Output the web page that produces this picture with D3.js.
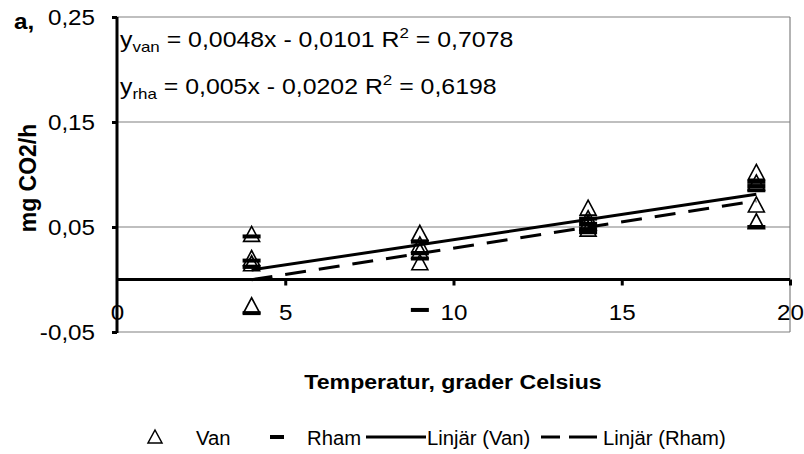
<!DOCTYPE html>
<html>
<head>
<meta charset="utf-8">
<script src="https://cdn.jsdelivr.net/npm/d3@7/dist/d3.min.js"></script>
<style>
  html, body { margin: 0; padding: 0; background: #fff; }
  svg { display: block; font-family: "Liberation Sans", Arial, sans-serif; }
</style>
</head>
<body>
<svg id="chart" width="804" height="454"></svg>
<script>
// Measurement temperatures (°C)
const temps = [4, 9, 14, 19];
// CO2 production per replicate at each temperature (mg CO2/h)
const vanValues = [
  [0.043, 0.020, 0.015, -0.025],
  [0.044, 0.033, 0.027, 0.016],
  [0.068, 0.058, 0.054, 0.048],
  [0.102, 0.092, 0.071, 0.055]
];
const rhamValues = [
  [0.041, 0.018, 0.012, -0.032],
  [0.036, 0.025, 0.020, -0.029],
  [0.058, 0.053, 0.048, 0.045],
  [0.093, 0.089, 0.085, 0.050]
];
// Linear fits: y = slope * x + intercept
const fitNames = ["van", "rha"];
const fitSlopes = [0.0048, 0.005];
const fitIntercepts = [-0.0101, -0.0202];
const fitR2 = [0.7078, 0.6198];
// Axis ticks
const xTicks = [0, 5, 10, 15, 20];
const yTicks = [-0.05, 0.05, 0.15, 0.25];
const legendLabels = ["Van", "Rham", "Linjär (Van)", "Linjär (Rham)"];

const SX = 1.1; // horizontal widening of the lettering
const svg = d3.select("#chart");
const x = d3.scaleLinear().domain([0, 20]).range([117, 790]);
const y = d3.scaleLinear().domain([-0.05, 0.25]).range([332, 17]);
const comma = v => String(v).replace(".", ",");
const fmtTick = v => d3.format(".2f")(v).replace(".", ",").replace("\u2212", "-");

// text placed at (px, py) and widened horizontally
function label(parent, px, py, str, size, opts = {}) {
  const g = parent.append("g").attr("transform", `translate(${px},${py}) scale(${opts.sx || SX},1)`);
  const t = g.append("text").attr("font-size", size).attr("fill", "#000")
    .attr("text-anchor", opts.anchor || "start");
  if (opts.bold) t.attr("font-weight", "bold");
  if (str !== null) t.text(str);
  return t;
}

// plot frame and gridlines
const grid = svg.append("g").attr("stroke", "#808080").attr("stroke-width", 1.2);
yTicks.forEach(t => {
  grid.append("line").attr("x1", x(0)).attr("x2", x(20)).attr("y1", y(t)).attr("y2", y(t));
});
grid.append("line").attr("x1", x(20)).attr("x2", x(20)).attr("y1", y(0.25)).attr("y2", y(-0.05));

// y axis
const yAxis = svg.append("g").attr("transform", `translate(${x(0)},0)`)
  .call(d3.axisLeft(y).tickValues(yTicks).tickSize(5).tickPadding(15).tickFormat(fmtTick));
yAxis.select(".domain").attr("stroke", "#000").attr("stroke-width", 3).attr("d", `M0,${y(0.25)}V${y(-0.05) + 1}`);
yAxis.selectAll(".tick line").attr("stroke", "#000").attr("stroke-width", 3);
yAxis.selectAll(".tick text").attr("font-size", 22).attr("fill", "#000")
  .attr("font-family", "Liberation Sans, Arial, sans-serif").attr("dy", "0.36em")
  .attr("transform", `scale(${SX},1)`);

// x axis crossing at zero
const xAxis = svg.append("g").attr("transform", `translate(0,${y(0)})`)
  .call(d3.axisBottom(x).tickValues(xTicks).tickSize(6).tickPadding(19).tickFormat(d3.format("d")));
xAxis.select(".domain").attr("stroke", "#000").attr("stroke-width", 3).attr("d", `M${x(0)},0H${x(20)}`);
xAxis.selectAll(".tick line").attr("stroke", "#000").attr("stroke-width", 3)
  .attr("display", d => d === 0 ? "none" : null);
xAxis.selectAll(".tick text").attr("font-size", 22).attr("fill", "#000")
  .attr("font-family", "Liberation Sans, Arial, sans-serif")
  .attr("transform", `scale(${SX},1)`);

// markers
const triPath = "M0,-8L8,7L-8,7Z";
const pts = svg.append("g");
temps.forEach((t, i) => {
  vanValues[i].forEach(v => {
    pts.append("path").attr("d", triPath)
      .attr("transform", `translate(${x(t)},${y(v)})`)
      .attr("fill", "none").attr("stroke", "#000").attr("stroke-width", 1.6);
  });
  rhamValues[i].forEach(v => {
    pts.append("rect").attr("x", x(t) - 9).attr("y", y(v) - 2).attr("width", 18).attr("height", 4)
      .attr("fill", "#000");
  });
});

// trend lines over the measured range
const line = d3.line().x(d => x(d[0])).y(d => y(d[1]));
const xr = d3.extent(temps);
fitSlopes.forEach((s, i) => {
  const b = fitIntercepts[i];
  svg.append("path")
    .attr("d", line(xr.map(t => [t, s * t + b])))
    .attr("fill", "none").attr("stroke", "#000").attr("stroke-width", 3)
    .attr("stroke-dasharray", i === 1 ? "21,13" : null);
});

// equations
fitNames.forEach((n, i) => {
  const txt = label(svg, 120, i === 0 ? 47 : 94, null, 22, { sx: 1.13 });
  txt.append("tspan").text("y");
  txt.append("tspan").attr("font-size", 15).attr("dy", 5).text(n);
  const sign = fitIntercepts[i] < 0 ? " - " : " + ";
  txt.append("tspan").attr("dy", -5)
    .text(` = ${comma(fitSlopes[i])}x${sign}${comma(Math.abs(fitIntercepts[i]))} R`);
  txt.append("tspan").attr("font-size", 15).attr("dy", -9).text("2");
  txt.append("tspan").attr("dy", 9).text(` = ${comma(fitR2[i])}`);
});

// panel letter and axis titles
label(svg, 14, 29, "a,", 22, { bold: true });
svg.append("text").attr("transform", "translate(36,178) rotate(-90)")
  .attr("text-anchor", "middle").attr("font-size", 23).attr("font-weight", "bold").text("mg CO2/h");
label(svg, 453, 389, "Temperatur, grader Celsius", 21, { bold: true, anchor: "middle" });

// legend
const lg = svg.append("g");
const ly = 437;
const lsx = 1.04;
lg.append("path").attr("d", "M0,-7L7,6L-7,6Z").attr("transform", `translate(155,${ly})`)
  .attr("fill", "none").attr("stroke", "#000").attr("stroke-width", 1.5);
label(lg, 196, ly + 8, legendLabels[0], 19.5, { sx: lsx });
lg.append("rect").attr("x", 270).attr("y", ly - 2).attr("width", 14).attr("height", 4).attr("fill", "#000");
label(lg, 307, ly + 8, legendLabels[1], 19.5, { sx: lsx });
lg.append("line").attr("x1", 366).attr("x2", 426).attr("y1", ly).attr("y2", ly).attr("stroke", "#000").attr("stroke-width", 3);
label(lg, 427, ly + 8, legendLabels[2], 19.5, { sx: lsx });
[[541, 560], [569, 597]].forEach(([a, b]) => {
  lg.append("line").attr("x1", a).attr("x2", b).attr("y1", ly).attr("y2", ly)
    .attr("stroke", "#000").attr("stroke-width", 3);
});
label(lg, 603, ly + 8, legendLabels[3], 19.5, { sx: lsx });
</script>
</body>
</html>
